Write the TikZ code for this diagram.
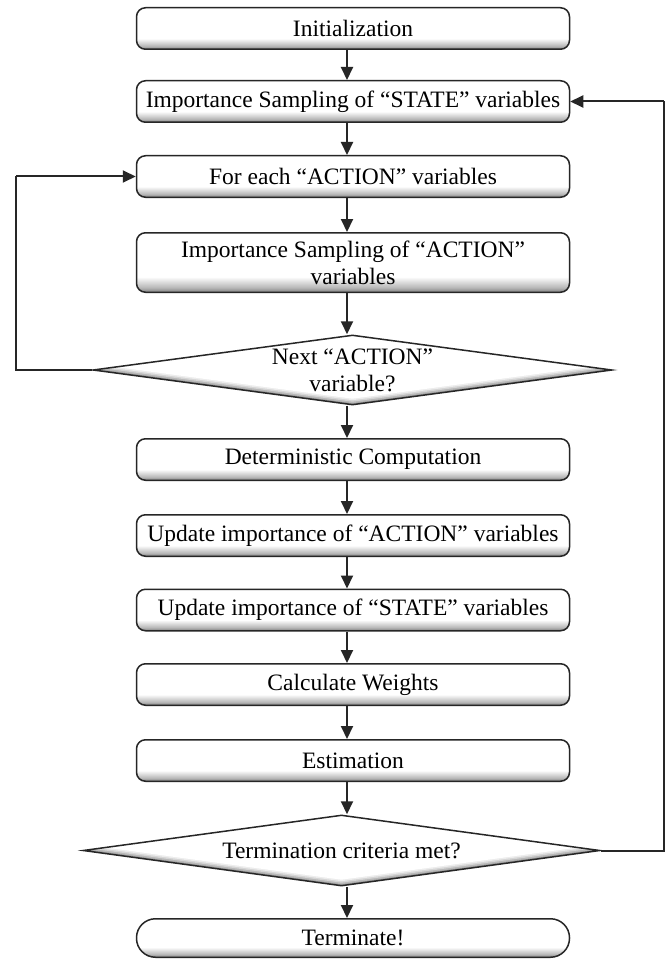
\documentclass[tikz,border=0pt]{standalone}
\usepackage{fontspec}
\setmainfont{Liberation Serif}
\usetikzlibrary{arrows.meta,shapes.geometric}
% white face with a soft grey band along the lower edge
\pgfdeclareverticalshading{bevel}{100bp}{color(0bp)=(black!50); color(25bp)=(black!50);
  color(29bp)=(black!28); color(38bp)=(white); color(100bp)=(white)}
\begin{document}
\begin{tikzpicture}[x=1pt,y=-1pt,
  font=\fontsize{23.5}{27}\selectfont,
  stepbox/.style={draw=black!85,line width=1.5pt,rounded corners=9pt,
    minimum width=433pt,minimum height=41.5pt,inner sep=2pt,align=center,
    shading=bevel},
  tallbox/.style={stepbox,minimum height=59.5pt},
  endbox/.style={stepbox,rounded corners=19pt,minimum height=38.5pt},
  decision/.style={diamond,draw=black!85,line width=1.5pt,inner xsep=0pt,
    inner ysep=-22pt,align=center,
    path picture={
      \foreach \d/\c in {0/black!40,1.5/black!28,3/black!16,4.5/black!7,6/white}
        \fill[\c] ([yshift=\d pt]path picture bounding box.west)
          -- ([yshift=\d pt]path picture bounding box.north)
          -- ([yshift=\d pt]path picture bounding box.east)
          -- ([yshift=\d pt]path picture bounding box.south) -- cycle;}},
  flow/.style={line width=2pt,draw=black!85,-{Triangle[length=13pt,width=12pt]}},
  loop/.style={line width=2pt,draw=black!85}]
\useasboundingbox (0,0) rectangle (669,960);
\fill[white] (0,0) rectangle (669,960);

\node[stepbox] (init) at (353,28.5) {Initialization};
\node[stepbox] (iss) at (353,101.5) {Importance Sampling of “STATE” variables};
\node[stepbox] (each) at (353,176.5) {For each “ACTION” variables};
\node[tallbox] (isa) at (353,262.5) {Importance Sampling of “ACTION”\\variables};
\node[decision,aspect=7.41,minimum width=519pt,minimum height=70pt] (next) at (352.5,370)
  {Next “ACTION”\\variable?};
\node[stepbox] (det) at (353,459.5) {Deterministic Computation};
\node[stepbox] (upa) at (353,535.5) {Update importance of “ACTION” variables};
\node[stepbox] (ups) at (353,610) {Update importance of “STATE” variables};
\node[stepbox] (cw) at (353,684.5) {Calculate Weights};
\node[stepbox] (est) at (353,760.5) {Estimation};
\node[decision,aspect=7.28,minimum width=517pt,minimum height=71pt] (term) at (341.5,850.5)
  {Termination criteria met?};
\node[endbox] (fin) at (353,938) {Terminate!};

% main downward flow
\foreach \a/\b in {init/iss,iss/each,each/isa,isa/next,next/det,det/upa,upa/ups,ups/cw,cw/est,est/term,term/fin}
  \draw[flow] (\a.south -| 347,0) -- (\b.north -| 347,0);

% inner loop over action variables
\coordinate (lA) at (16,370);
\coordinate (lB) at (16,176.5);
\draw[loop] (next.west) -- (lA) -- (lB);
\draw[flow] (lB) -- (each.west);

% outer loop back to state sampling
\coordinate (rA) at (664,850.5);
\coordinate (rB) at (664,101.5);
\draw[loop] (term.east) -- (rA) -- (rB);
\draw[flow] (rB) -- (iss.east);
\end{tikzpicture}
\end{document}
